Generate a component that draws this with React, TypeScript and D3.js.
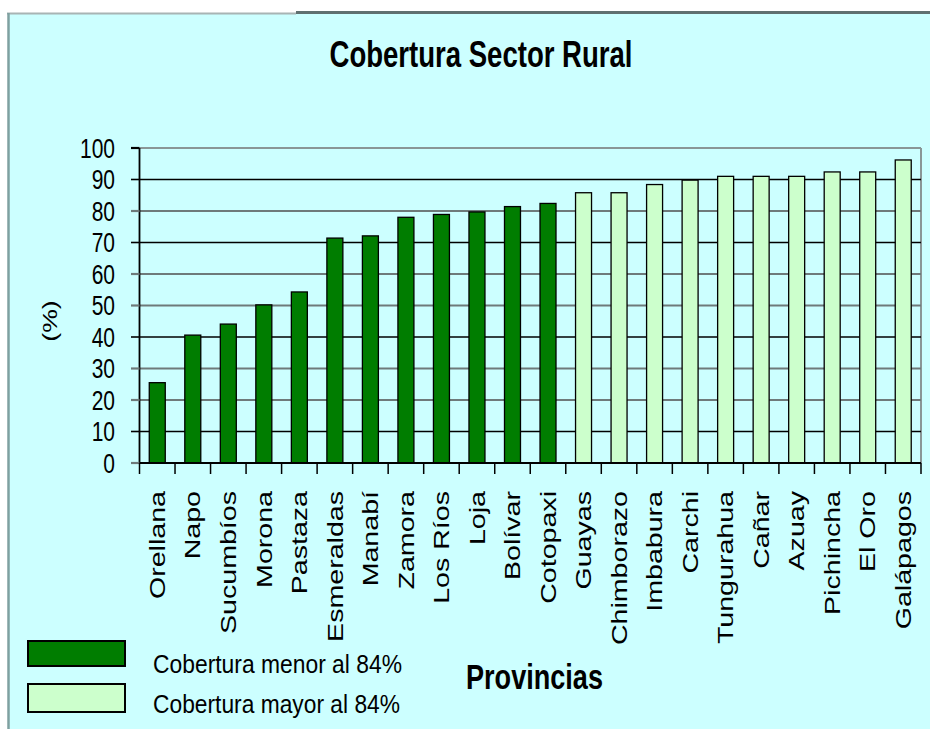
import React from "react";
import * as d3 from "d3";

const title = "Cobertura Sector Rural";
const provinces = [
  "Orellana", "Napo", "Sucumbíos", "Morona", "Pastaza", "Esmeraldas", "Manabí",
  "Zamora", "Los Ríos", "Loja", "Bolívar", "Cotopaxi", "Guayas", "Chimborazo",
  "Imbabura", "Carchi", "Tungurahua", "Cañar", "Azuay", "Pichincha", "El Oro", "Galápagos",
];
const coverage = [
  25.5, 40.6, 44.1, 50.2, 54.3, 71.4, 72.1, 78.0, 78.9, 79.7, 81.4, 82.4,
  85.8, 85.8, 88.4, 89.8, 91.0, 91.0, 91.0, 92.4, 92.4, 96.2,
];
const threshold = 84;
const yTicks = [0, 10, 20, 30, 40, 50, 60, 70, 80, 90, 100];
const legendLabels = ["Cobertura menor al 84%", "Cobertura mayor al 84%"];
const xTitle = "Provincias";
const yTitle = "(%)";

const DARK = "#007d00";
const LIGHT = "#ccffcc";
const FONT = "'Liberation Sans', Arial, sans-serif";
// grid lines that render dark vs. gray in the reference
const darkGrid = new Set([10, 40, 70, 90]);

export default function App() {
  const W = 930, H = 729;
  const x0 = 139.5, x1 = 921, y0 = 463, y1 = 148;
  const x = d3.scaleBand<string>().domain(provinces).range([x0, x1]).paddingInner(0.55).paddingOuter(0.275);
  const y = d3.scaleLinear().domain([0, 100]).range([y0, y1]);
  const step = x.step();
  const bw = x.bandwidth();

  return (
    <svg width={W} height={H} style={{ position: "absolute", left: 0, top: 0 }} fontFamily={FONT}>
      <rect x={0} y={0} width={W} height={H} fill="#ffffff" />
      <rect x={8} y={13} width={W - 8} height={H - 13} fill="#ccffff" />
      <line x1={7} x2={296} y1={13.5} y2={13.5} stroke="#a8b4b4" strokeWidth={2} />
      <line x1={296} x2={W} y1={12.5} y2={12.5} stroke="#5f7070" strokeWidth={3} />
      <line x1={8.5} x2={8.5} y1={13} y2={H} stroke="#7fa0a0" strokeWidth={2.5} />

      {/* title */}
      <text transform={`translate(481,67) scale(1,1.35)`} textAnchor="middle" fontWeight="bold"
        fontSize={27} textLength={303} lengthAdjust="spacingAndGlyphs" fill="#000">{title}</text>

      {/* plot frame top/right */}
      <line x1={x0} x2={x1} y1={y(100)} y2={y(100)} stroke="#8a9696" strokeWidth={2} />
      <line x1={x1} x2={x1} y1={y(100)} y2={y0} stroke="#8a9696" strokeWidth={2} />

      {/* gridlines */}
      {yTicks.filter((t) => t > 0 && t < 100).map((t) => (
        <line key={"g" + t} x1={x0} x2={x1} y1={y(t)} y2={y(t)}
          stroke={darkGrid.has(t) ? "#000" : "#6e7a7a"} strokeWidth={darkGrid.has(t) ? 1.6 : 2.2} />
      ))}

      {/* bars */}
      {provinces.map((p, i) => (
        <rect key={p} x={x(p)} y={y(coverage[i])} width={bw} height={y0 - y(coverage[i])}
          fill={coverage[i] < threshold ? DARK : LIGHT} stroke="#000" strokeWidth={1.3} />
      ))}

      {/* y axis */}
      <line x1={x0} x2={x0} y1={y(100)} y2={y0} stroke="#000" strokeWidth={1.8} />
      {yTicks.map((t) => (
        <g key={"yt" + t}>
          <line x1={131} x2={x0} y1={y(t)} y2={y(t)}
            stroke={darkGrid.has(t) || t === 100 ? "#000" : "#6e7a7a"} strokeWidth={darkGrid.has(t) ? 1.6 : 2.2} />
          <text transform={`translate(115,${y(t) + 9.8}) scale(1,1.3)`} textAnchor="end" fontSize={21} fill="#000">{t}</text>
        </g>
      ))}
      <text transform={`translate(50,321) rotate(-90) scale(1.27,1)`} textAnchor="middle" dy="0.35em" fontSize={21} fill="#000">{yTitle}</text>

      {/* x axis */}
      <line x1={x0} x2={x1} y1={y0} y2={y0} stroke="#000" strokeWidth={1.8} />
      {d3.range(provinces.length + 1).map((i) => (
        <line key={"xt" + i} x1={x0 + i * step} x2={x0 + i * step} y1={y0} y2={y0 + 11} stroke="#000" strokeWidth={1.5} />
      ))}
      {provinces.map((p) => (
        <text key={"xl" + p} transform={`translate(${(x(p) as number) + bw / 2},491) rotate(-90) scale(1.3,1)`}
          textAnchor="end" dy="0.35em" fontSize={22} fill="#000">{p}</text>
      ))}

      {/* legend */}
      <rect x={28} y={641} width={97} height={25} fill={DARK} stroke="#000" strokeWidth={2} />
      <rect x={28} y={684} width={97} height={28} fill={LIGHT} stroke="#000" strokeWidth={2} />
      <text transform={`translate(153,673) scale(1,1.3)`} fontSize={20} textLength={249} lengthAdjust="spacingAndGlyphs" fill="#000">{legendLabels[0]}</text>
      <text transform={`translate(153,713) scale(1,1.3)`} fontSize={20} textLength={247} lengthAdjust="spacingAndGlyphs" fill="#000">{legendLabels[1]}</text>

      {/* x title */}
      <text transform={`translate(466,689) scale(1,1.35)`} fontSize={26} fontWeight="bold" textLength={137} lengthAdjust="spacingAndGlyphs" fill="#000">{xTitle}</text>
    </svg>
  );
}
